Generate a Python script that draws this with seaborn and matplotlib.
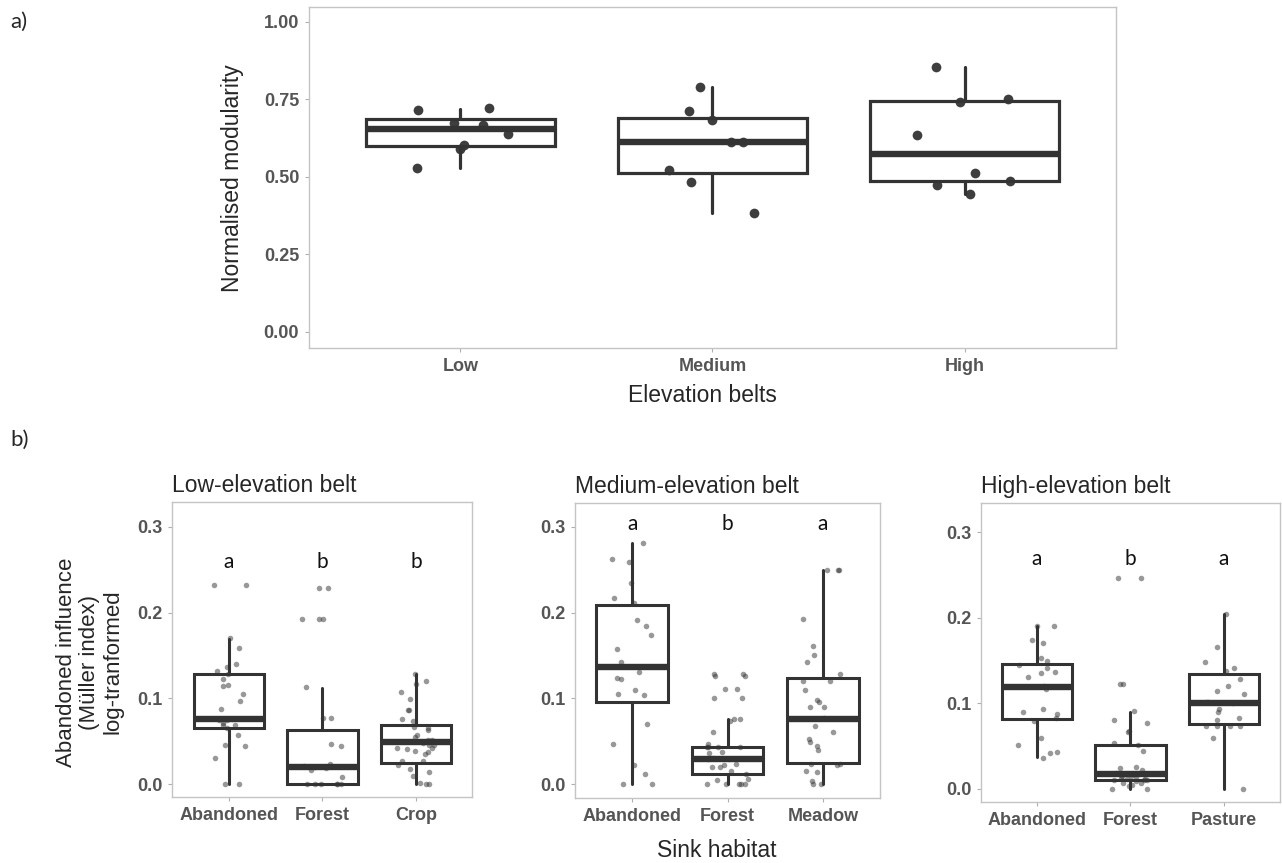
''' modularity and abandoned influence boxplots '''

import numpy as np
import pandas as pd
import seaborn as sns
import matplotlib.pyplot as plt

# ---- panel a: normalised modularity per elevation belt
belts = ['Low', 'Medium', 'High']
mod_low = [0.717, 0.721, 0.673, 0.667, 0.637, 0.604, 0.591, 0.528]
mod_medium = [0.712, 0.683, 0.613, 0.613, 0.790, 0.522, 0.482, 0.385]
mod_high = [0.854, 0.741, 0.752, 0.634, 0.512, 0.488, 0.474, 0.446]

# box stats: q1, median, q3, lower whisker, upper whisker
box_a = [(0.601, 0.653, 0.687, 0.530, 0.720),
         (0.513, 0.613, 0.691, 0.385, 0.790),
         (0.487, 0.573, 0.744, 0.446, 0.854)]

# ---- panel b: abandoned influence per sink habitat
low_habitats = ['Abandoned', 'Forest', 'Crop']
medium_habitats = ['Abandoned', 'Forest', 'Meadow']
high_habitats = ['Abandoned', 'Forest', 'Pasture']

low_abandoned = [0.232, 0.232, 0.170, 0.159, 0.140, 0.137, 0.132, 0.128, 0.123, 0.116,
                 0.115, 0.105, 0.097, 0.088, 0.076, 0.075, 0.075, 0.071, 0.069, 0.069,
                 0.065, 0.057, 0.046, 0.044, 0.030, 0.0, 0.0]
low_forest = [0.229, 0.229, 0.192, 0.192, 0.192, 0.113, 0.077, 0.077, 0.047, 0.044,
              0.024, 0.021, 0.020, 0.019, 0.016, 0.008, 0.0, 0.0, 0.0, 0.0, 0.0, 0.0]
low_crop = [0.129, 0.120, 0.117, 0.108, 0.099, 0.087, 0.087, 0.076, 0.074, 0.067,
            0.065, 0.063, 0.057, 0.055, 0.051, 0.051, 0.048, 0.046, 0.046, 0.042,
            0.042, 0.041, 0.039, 0.038, 0.035, 0.027, 0.027, 0.022, 0.018, 0.014,
            0.010, 0.001, 0.0, 0.0]

med_abandoned = [0.281, 0.262, 0.259, 0.235, 0.217, 0.211, 0.191, 0.184, 0.174, 0.158,
                 0.142, 0.131, 0.124, 0.123, 0.110, 0.105, 0.104, 0.070, 0.047, 0.022,
                 0.012, 0.0, 0.0]
med_forest = [0.129, 0.129, 0.126, 0.126, 0.111, 0.111, 0.101, 0.101, 0.076, 0.076,
              0.074, 0.061, 0.047, 0.044, 0.043, 0.043, 0.043, 0.038, 0.037, 0.031,
              0.030, 0.029, 0.024, 0.023, 0.020, 0.020, 0.015, 0.012, 0.006, 0.005,
              0.0, 0.0, 0.0, 0.0, 0.0]
med_meadow = [0.250, 0.250, 0.250, 0.193, 0.161, 0.151, 0.142, 0.129, 0.120, 0.120,
              0.110, 0.098, 0.096, 0.090, 0.090, 0.077, 0.068, 0.061, 0.053, 0.049,
              0.045, 0.040, 0.024, 0.024, 0.022, 0.016, 0.014, 0.004, 0.0, 0.0]

high_abandoned = [0.190, 0.190, 0.174, 0.171, 0.153, 0.149, 0.145, 0.141, 0.137, 0.135,
                  0.131, 0.120, 0.117, 0.093, 0.090, 0.087, 0.083, 0.079, 0.060, 0.051,
                  0.043, 0.042, 0.036]
high_forest = [0.247, 0.247, 0.123, 0.123, 0.091, 0.081, 0.077, 0.068, 0.067, 0.054,
               0.051, 0.044, 0.026, 0.025, 0.022, 0.019, 0.018, 0.017, 0.015, 0.015,
               0.014, 0.013, 0.012, 0.012, 0.011, 0.011, 0.010, 0.009, 0.007, 0.007,
               0.005, 0.004, 0.0, 0.0]
high_pasture = [0.204, 0.166, 0.148, 0.141, 0.138, 0.129, 0.120, 0.115, 0.111, 0.102,
                0.102, 0.100, 0.093, 0.090, 0.083, 0.080, 0.074, 0.074, 0.074, 0.074,
                0.059, 0.0]

box_low = [(0.065, 0.076, 0.129, 0.0, 0.169),
           (0.0, 0.0195, 0.063, 0.0, 0.112),
           (0.025, 0.049, 0.069, 0.0, 0.128)]
box_medium = [(0.096, 0.137, 0.209, 0.0, 0.281),
              (0.012, 0.029, 0.0435, 0.0, 0.076),
              (0.025, 0.0765, 0.124, 0.0, 0.250)]
box_high = [(0.082, 0.119, 0.146, 0.037, 0.190),
            (0.0105, 0.018, 0.051, 0.0, 0.090),
            (0.0755, 0.100, 0.134, 0.0, 0.204)]

letters_low = ['a', 'b', 'b']
letters_medium = ['a', 'b', 'a']
letters_high = ['a', 'b', 'a']
letter_y = [0.259, 0.303, 0.269]

titles = ['Low-elevation belt', 'Medium-elevation belt', 'High-elevation belt']

sns.set_style('white')
plt.rcParams['font.family'] = ['Liberation Sans', 'DejaVu Sans']

DARK = '#333333'
TICK_COL = '#555555'
FRAME = '#c4c4c4'


def long_df(names, groups):
    rows = []
    for name, vals in zip(names, groups):
        for v in vals:
            rows.append((name, v))
    return pd.DataFrame(rows, columns=['group', 'value'])


def draw_boxes(ax, stats, lw, med_lw):
    bstats = [dict(q1=s[0], med=s[1], q3=s[2], whislo=s[3], whishi=s[4], fliers=[])
              for s in stats]
    ax.bxp(bstats, positions=range(len(bstats)), widths=0.75,
           showcaps=False, showfliers=False, patch_artist=True, manage_ticks=False,
           boxprops=dict(facecolor='white', edgecolor=DARK, linewidth=lw),
           whiskerprops=dict(color=DARK, linewidth=lw),
           medianprops=dict(color=DARK, linewidth=med_lw, solid_capstyle='butt'),
           zorder=2)


def style_axis(ax, fmt, ticks):
    for sp in ax.spines.values():
        sp.set_visible(True)
        sp.set_color(FRAME)
        sp.set_linewidth(1.0)
    ax.set_yticks(ticks)
    ax.set_yticklabels([fmt % t for t in ticks])
    ax.tick_params(axis='both', length=3, width=0.8, color='#b0b0b0',
                   labelcolor=TICK_COL, labelsize=13, pad=4, left=True, bottom=True)
    for lab in ax.get_xticklabels() + ax.get_yticklabels():
        lab.set_fontweight('bold')
    ax.set_xlabel('')
    ax.set_ylabel('')
    ax.set_xlim(-0.6, 2.6)


fig = plt.figure(figsize=(12.82, 8.63), dpi=100)

# ---- panel a
np.random.seed(7)
ax_a = fig.add_axes([0.241, 0.5968, 0.6295, 0.3951])
df_a = long_df(belts, [mod_low, mod_medium, mod_high])
sns.stripplot(data=df_a, x='group', y='value', order=belts, ax=ax_a, color=DARK,
              size=7, jitter=0.2, linewidth=0, alpha=0.95, zorder=3)
draw_boxes(ax_a, box_a, lw=2.3, med_lw=4.6)
style_axis(ax_a, '%.2f', [0.0, 0.25, 0.5, 0.75, 1.0])
ax_a.set_ylim(-0.052, 1.048)

# ---- panel b
axes_pos = [[0.1345, 0.0765, 0.2340, 0.3418],
            [0.4485, 0.0753, 0.2380, 0.3418],
            [0.7652, 0.0707, 0.2332, 0.3464]]
ylims = [(-0.015, 0.329), (-0.016, 0.3276), (-0.0152, 0.334)]
habitat_sets = [low_habitats, medium_habitats, high_habitats]
value_sets = [[low_abandoned, low_forest, low_crop],
              [med_abandoned, med_forest, med_meadow],
              [high_abandoned, high_forest, high_pasture]]
box_sets = [box_low, box_medium, box_high]
letter_sets = [letters_low, letters_medium, letters_high]

for i in range(3):
    ax = fig.add_axes(axes_pos[i])
    df = long_df(habitat_sets[i], value_sets[i])
    sns.stripplot(data=df, x='group', y='value', order=habitat_sets[i], ax=ax,
                  color=DARK, size=4, jitter=0.22, linewidth=0, alpha=0.5, zorder=3)
    draw_boxes(ax, box_sets[i], lw=2.2, med_lw=4.6)
    style_axis(ax, '%.1f', [0.0, 0.1, 0.2, 0.3])
    ax.set_ylim(*ylims[i])
    ax.set_title(titles[i], loc='left', fontsize=16.5, pad=7)
    for j, let in enumerate(letter_sets[i]):
        ax.text(j, letter_y[i], let, ha='center', va='center', fontsize=15,
                family=['Lato', 'DejaVu Sans'], color='#111111')

# ---- labels
fig.text(10 / 1282, 1 - 22 / 863, 'a)', fontsize=16, family=['Lato', 'DejaVu Sans'],
         ha='left', va='center')
fig.text(10 / 1282, 1 - 440 / 863, 'b)', fontsize=16, family=['Lato', 'DejaVu Sans'],
         ha='left', va='center')
fig.text(233 / 1282, 1 - 178 / 863, 'Normalised modularity', rotation=90,
         fontsize=16.5, ha='center', va='center')
fig.text(702 / 1282, 1 - 395 / 863, 'Elevation belts', fontsize=16.5,
         ha='center', va='center')
fig.text(90 / 1282, 1 - 662 / 863, 'Abandoned influence\n(Müller index)\nlog-tranformed',
         rotation=90, fontsize=16, ha='center', va='center', multialignment='center',
         linespacing=1.15)
fig.text(717 / 1282, 1 - 850 / 863, 'Sink habitat', fontsize=16.5,
         ha='center', va='center')

fig.savefig('out.png', dpi=100)
